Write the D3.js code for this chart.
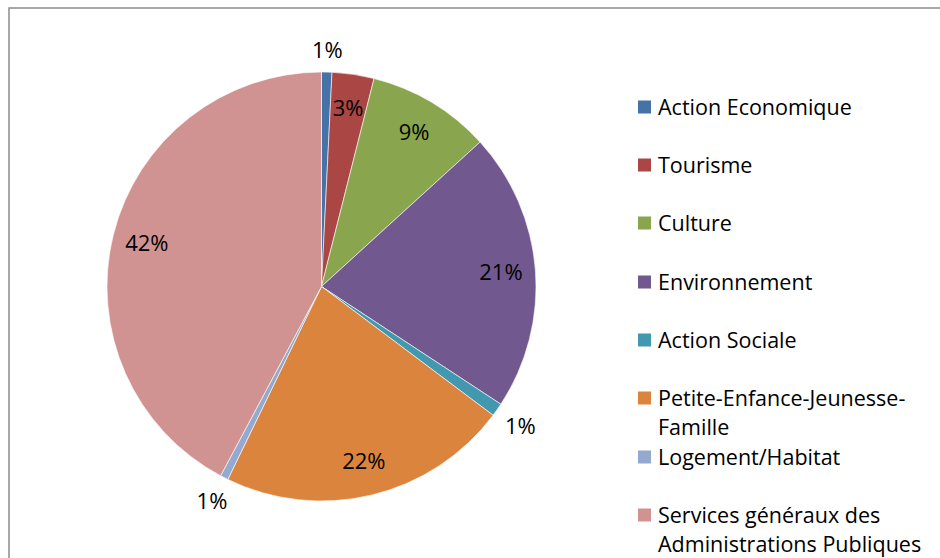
<!DOCTYPE html>
<html><head><meta charset="utf-8">
<script src="https://cdn.jsdelivr.net/npm/d3@7"></script>
<style>body{margin:0;background:#fff;} svg{display:block;}</style>
</head><body>
<svg id="c" width="940" height="558"></svg>
<script>
const categories = ["Action Economique","Tourisme","Culture","Environnement","Action Sociale","Petite-Enfance-Jeunesse-Famille","Logement/Habitat","Services généraux des Administrations Publiques"];
const values = [0.78, 3.16, 9.3, 21.0, 1.0, 21.95, 0.6, 42.2];
const colors = ["#4572A7","#AA4643","#89A54E","#71588F","#4198AF","#DB843D","#93A9CF","#D19392"];
const legendLines = [["Action Economique"],["Tourisme"],["Culture"],["Environnement"],["Action Sociale"],["Petite-Enfance-Jeunesse-","Famille"],["Logement/Habitat"],["Services généraux des","Administrations Publiques"]];
const outside = [true,false,false,false,true,false,true,false];

const svg = d3.select("#c");
const font = "'Open Sans', sans-serif";
svg.append("rect").attr("x",9).attr("y",8).attr("width",1000).attr("height",1000)
  .attr("fill","none").attr("stroke","#8c8c8c").attr("stroke-width",1.5);

const cx = 321.5, cy = 286.5, R = 214.5;
const total = d3.sum(values);
const pie = d3.pie().sort(null).value(d=>d)(values);
const arc = d3.arc().innerRadius(0).outerRadius(R);
const g = svg.append("g").attr("transform",`translate(${cx},${cy})`);
g.selectAll("path").data(pie).join("path")
  .attr("d",arc).attr("fill",(d,i)=>colors[i]).attr("stroke","#fff").attr("stroke-width",0.6);

const inArc = d3.arc().innerRadius(180).outerRadius(180);
function outPos(d){
  const a = (d.startAngle+d.endAngle)/2;
  const ux = Math.sin(a), uy = -Math.cos(a);
  const hw = 16, hh = 13, gap = 8;
  const r = R + gap + Math.abs(ux)*hw + Math.abs(uy)*hh;
  return [r*ux, r*uy];
}
g.selectAll("text").data(pie).join("text")
  .attr("transform",(d,i)=>`translate(${outside[i]?outPos(d):inArc.centroid(d)})`)
  .attr("text-anchor","middle").attr("dy","0.35em")
  .attr("font-family",font).attr("font-size",22).attr("fill","#000")
  .text(d=>Math.round(d.value/total*100)+"%");

const legY = [107,165,223,282,340,398,457,515];
const lg = svg.append("g");
legendLines.forEach((lines,i)=>{
  lg.append("rect").attr("x",638).attr("y",legY[i]-6.5).attr("width",13).attr("height",13).attr("fill",colors[i]);
  lines.forEach((t,j)=>{
    lg.append("text").attr("x",658).attr("y",legY[i]+j*29.5).attr("dy","0.35em")
      .attr("font-family",font).attr("font-size",21.5).attr("fill","#000").text(t);
  });
});
</script>
</body></html>
